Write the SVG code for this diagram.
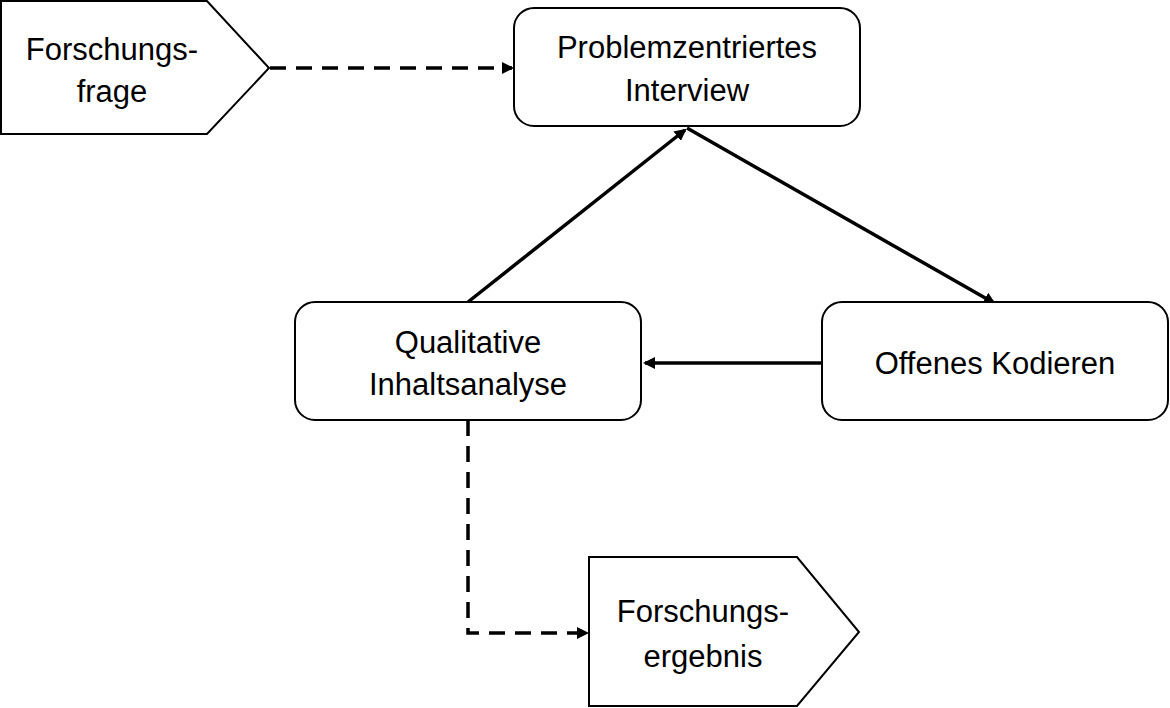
<svg xmlns="http://www.w3.org/2000/svg" width="1170" height="708" viewBox="0 0 1170 708">
<style>
.n{fill:#fff;stroke:#000;stroke-width:2}
.t{font-family:"Liberation Sans",Arial,sans-serif;font-size:31px;fill:#000;text-anchor:middle}
.c{stroke:#000;stroke-width:3.5;fill:none}
.d{stroke-dasharray:16 10}
</style>
<defs>
<marker id="b" markerWidth="12" markerHeight="12" refX="10" refY="6" orient="auto" markerUnits="userSpaceOnUse" viewBox="0 0 12 12">
<path d="M0,0 L12,6 L0,12 Z" fill="#000"/>
</marker>
</defs>
<rect width="1170" height="708" fill="#fff"/>
<g id="connectors">
<path class="c d" d="M270,68 L512,68" marker-end="url(#b)"/>
<path class="c" d="M468,302 L685,130" marker-end="url(#b)"/>
<path class="c" d="M687,128 L994,303" marker-end="url(#b)"/>
<path class="c" d="M822,363 L645,363" marker-end="url(#b)"/>
<path class="c d" d="M468,420 L468,633 L587,633" marker-end="url(#b)"/>
</g>
<g id="forschungsfrage">
<polygon class="n" points="1,1 207,1 269,68 207,134 1,134"/>
<text class="t" x="112" y="60">Forschungs-</text>
<text class="t" x="112" y="102">frage</text>
</g>
<g id="interview">
<rect class="n" x="514" y="8" width="346" height="118" rx="20"/>
<text class="t" x="687" y="58">Problemzentriertes</text>
<text class="t" x="687" y="101">Interview</text>
</g>
<g id="inhaltsanalyse">
<rect class="n" x="295" y="302" width="346" height="118" rx="20"/>
<text class="t" x="468" y="353">Qualitative</text>
<text class="t" x="468" y="395">Inhaltsanalyse</text>
</g>
<g id="kodieren">
<rect class="n" x="822" y="302" width="346" height="118" rx="20"/>
<text class="t" x="995" y="374">Offenes Kodieren</text>
</g>
<g id="ergebnis">
<polygon class="n" points="589,557 797,557 859,632 797,706 589,706"/>
<text class="t" x="703" y="622">Forschungs-</text>
<text class="t" x="703" y="667">ergebnis</text>
</g>
</svg>
